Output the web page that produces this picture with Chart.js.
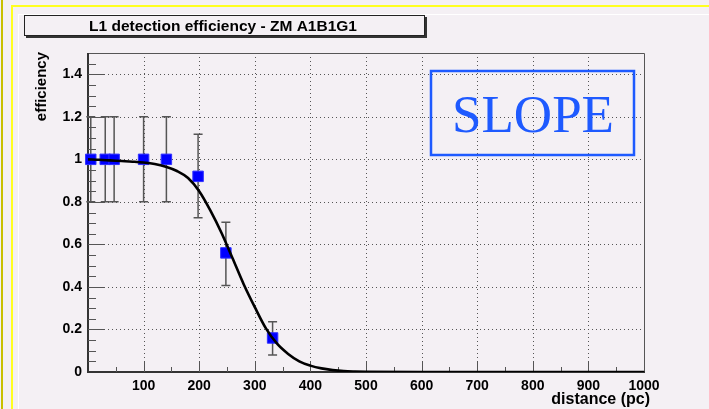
<!DOCTYPE html>
<html>
<head>
<meta charset="utf-8">
<style>
  html, body { margin: 0; padding: 0; background: #f4f0f4; }
  #wrap { position: relative; width: 709px; height: 409px; }
  canvas { display: block; }
</style>
<script src="https://cdn.jsdelivr.net/npm/chart.js@4.4.1/dist/chart.umd.min.js"></script>
</head>
<body>
<div id="wrap"><canvas id="c" width="709" height="409"></canvas></div>
<script>
// Measured L1 detection efficiency versus distance
const distance   = [5, 31, 47, 100, 141, 198, 248, 332];
const efficiency = [1.0, 1.0, 1.0, 1.0, 1.0, 0.92, 0.56, 0.16];
const errLow     = [0.8, 0.8, 0.8, 0.8, 0.8, 0.725, 0.407, 0.08];
const errHigh    = [1.2, 1.2, 1.2, 1.2, 1.2, 1.118, 0.704, 0.236];

// Fitted efficiency curve
const curveX = [0, 20, 40, 60, 80, 100, 120, 140, 160, 180, 200, 220, 240, 260, 280, 300,
                320, 340, 360, 380, 400, 420, 440, 460, 480, 500, 600, 700, 800, 900, 1000];
const curveY = [1.0, 0.998, 0.995, 0.992, 0.989, 0.985, 0.978, 0.965, 0.945, 0.912, 0.85,
                0.76, 0.655, 0.535, 0.413, 0.305, 0.205, 0.133, 0.085, 0.05, 0.03, 0.017,
                0.009, 0.004, 0.002, 0.001, 0, 0, 0, 0, 0];

// Axis ticks
const xTickValues = [100, 200, 300, 400, 500, 600, 700, 800, 900, 1000];
const xTickLabels = ['100', '200', '300', '400', '500', '600', '700', '800', '900', '1000'];
const yTickValues = [0, 0.2, 0.4, 0.6, 0.8, 1.0, 1.2, 1.4];
const yTickLabels = ['0', '0.2', '0.4', '0.6', '0.8', '1', '1.2', '1.4'];
const xGridValues = [100, 200, 300, 400, 500, 600, 700, 800, 900];
const yGridValues = [0.2, 0.4, 0.6, 0.8, 1.0, 1.2, 1.4];

const titleText = 'L1 detection efficiency - ZM A1B1G1';
const xTitle = 'distance (pc)';
const yTitle = 'efficiency';
const stampText = 'SLOPE';

const BG = '#f4f0f4';
const tickFont = { family: '"Liberation Sans", Arial, sans-serif', size: 14, weight: 'bold' };

// Canvas frame, title pave, grid, axis ticks and error bars
const framePlugin = {
  id: 'framePlugin',
  beforeDraw(chart) {
    const c = chart.ctx;
    c.save();
    c.fillStyle = BG;
    c.fillRect(0, 0, chart.width, chart.height);
    // pad borders
    c.fillStyle = '#c8c000';
    c.fillRect(1, 0, 2, chart.height);
    c.fillStyle = '#ffff20';
    c.fillRect(11, 5, chart.width - 11, 2);
    c.fillRect(11, 5, 2, chart.height - 5);
    c.fillStyle = '#ffffff';
    c.fillRect(18, 14, chart.width - 18, 1);
    c.fillRect(18, 14, 1, chart.height - 14);
    // title pave with shadow
    c.fillStyle = '#333';
    c.fillRect(26, 17, 401, 21);
    c.fillStyle = BG;
    c.fillRect(24, 15, 401, 21);
    c.strokeStyle = '#222';
    c.lineWidth = 1;
    c.strokeRect(24.5, 15.5, 400, 20);
    c.fillStyle = '#000';
    c.font = 'bold 15.5px "Liberation Sans", Arial, sans-serif';
    c.textAlign = 'center';
    c.textBaseline = 'alphabetic';
    c.fillText(titleText, 223, 31);
    c.restore();
  },
  beforeDatasetsDraw(chart) {
    const c = chart.ctx;
    const xs = chart.scales.x, ys = chart.scales.y;
    const a = chart.chartArea;
    c.save();
    // dotted grid
    c.strokeStyle = '#555';
    c.lineWidth = 1;
    c.setLineDash([1, 3]);
    xGridValues.forEach(v => {
      const px = Math.round(xs.getPixelForValue(v)) + 0.5;
      c.beginPath(); c.moveTo(px, a.top); c.lineTo(px, a.bottom); c.stroke();
    });
    yGridValues.forEach(v => {
      const py = Math.round(ys.getPixelForValue(v)) + 0.5;
      c.beginPath(); c.moveTo(a.left, py); c.lineTo(a.right, py); c.stroke();
    });
    c.setLineDash([]);
    // frame
    c.strokeStyle = '#555';
    c.lineWidth = 1;
    c.beginPath();
    c.moveTo(a.left, a.top + 0.5); c.lineTo(a.right + 0.5, a.top + 0.5); c.lineTo(a.right + 0.5, a.bottom);
    c.stroke();
    c.strokeStyle = '#333';
    c.lineWidth = 2;
    c.beginPath();
    c.moveTo(a.left, a.top); c.lineTo(a.left, a.bottom); c.lineTo(a.right + 1, a.bottom);
    c.stroke();
    // tick marks (inside the frame)
    const yMajor = 16, yMinor = 8, xMajor = 10, xMinor = 5;
    c.strokeStyle = '#555';
    c.lineWidth = 1;
    for (let k = 1; k < 30; k++) {
      const v = k * 0.05;
      const py = Math.round(ys.getPixelForValue(v)) + 0.5;
      const len = (k % 4 === 0) ? yMajor : yMinor;
      c.beginPath(); c.moveTo(a.left, py); c.lineTo(a.left + len, py); c.stroke();
    }
    for (let k = 1; k < 20; k++) {
      const v = k * 50;
      const px = Math.round(xs.getPixelForValue(v)) + 0.5;
      const len = (k % 2 === 0) ? xMajor : xMinor;
      c.beginPath(); c.moveTo(px, a.bottom); c.lineTo(px, a.bottom - len); c.stroke();
    }
    // error bars
    c.strokeStyle = '#555';
    c.lineWidth = 1.5;
    const cap = 4.5;
    distance.forEach((d, i) => {
      const px = xs.getPixelForValue(d);
      const pl = ys.getPixelForValue(errLow[i]);
      const ph = ys.getPixelForValue(errHigh[i]);
      c.beginPath();
      c.moveTo(px, pl); c.lineTo(px, ph);
      c.moveTo(px - cap, pl); c.lineTo(px + cap, pl);
      c.moveTo(px - cap, ph); c.lineTo(px + cap, ph);
      c.stroke();
    });
    c.restore();
  },
  afterDraw(chart) {
    const c = chart.ctx;
    c.save();
    // axis titles
    c.fillStyle = '#000';
    c.font = 'bold 16px "Liberation Sans", Arial, sans-serif';
    c.textAlign = 'right';
    c.textBaseline = 'alphabetic';
    c.fillText(xTitle, 650, 404);
    c.font = 'bold 15px "Liberation Sans", Arial, sans-serif';
    c.translate(46, 52);
    c.rotate(-Math.PI / 2);
    c.fillText(yTitle, 0, 0);
    c.restore();
    // stamp box
    c.save();
    c.strokeStyle = '#1e5aff';
    c.lineWidth = 2.5;
    c.strokeRect(431, 71, 203, 84);
    c.fillStyle = '#1e5aff';
    c.font = '53px "Liberation Serif", "Times New Roman", serif';
    c.textAlign = 'center';
    c.textBaseline = 'alphabetic';
    c.fillText(stampText, 533, 132);
    c.restore();
  }
};

new Chart(document.getElementById('c'), {
  type: 'scatter',
  data: {
    datasets: [
      {
        label: 'fit',
        type: 'line',
        data: curveX.map((x, i) => ({ x: x, y: curveY[i] })),
        borderColor: '#000',
        borderWidth: 2.6,
        pointRadius: 0,
        fill: false,
        cubicInterpolationMode: 'monotone',
        order: 1
      },
      {
        label: 'efficiency',
        data: distance.map((x, i) => ({ x: x, y: efficiency[i] })),
        pointStyle: 'rect',
        pointRadius: 7.4,
        backgroundColor: '#0000ff',
        borderColor: '#3030ff',
        borderWidth: 1,
        clip: false,
        order: 2
      }
    ]
  },
  options: {
    responsive: false,
    animation: false,
    events: [],
    layout: { padding: { left: 0, top: 53, right: 65, bottom: 0 } },
    plugins: { legend: { display: false }, tooltip: { enabled: false }, title: { display: false } },
    scales: {
      x: {
        type: 'linear',
        min: 0, max: 1000,
        afterFit(s) { s.height = 37; },
        afterBuildTicks(s) { s.ticks = xTickValues.map(v => ({ value: v })); },
        grid: { display: false, drawTicks: false },
        border: { display: false },
        ticks: {
          font: tickFont, color: '#000', padding: 6,
          maxRotation: 0, autoSkip: false,
          callback: (v, i) => xTickLabels[i]
        }
      },
      y: {
        type: 'linear',
        min: 0, max: 1.5,
        afterFit(s) { s.width = 88; },
        afterBuildTicks(s) { s.ticks = yTickValues.map(v => ({ value: v })); },
        grid: { display: false, drawTicks: false },
        border: { display: false },
        ticks: {
          font: tickFont, color: '#000', padding: 6,
          autoSkip: false,
          callback: (v, i) => yTickLabels[i]
        }
      }
    }
  },
  plugins: [framePlugin]
});
</script>
</body>
</html>
